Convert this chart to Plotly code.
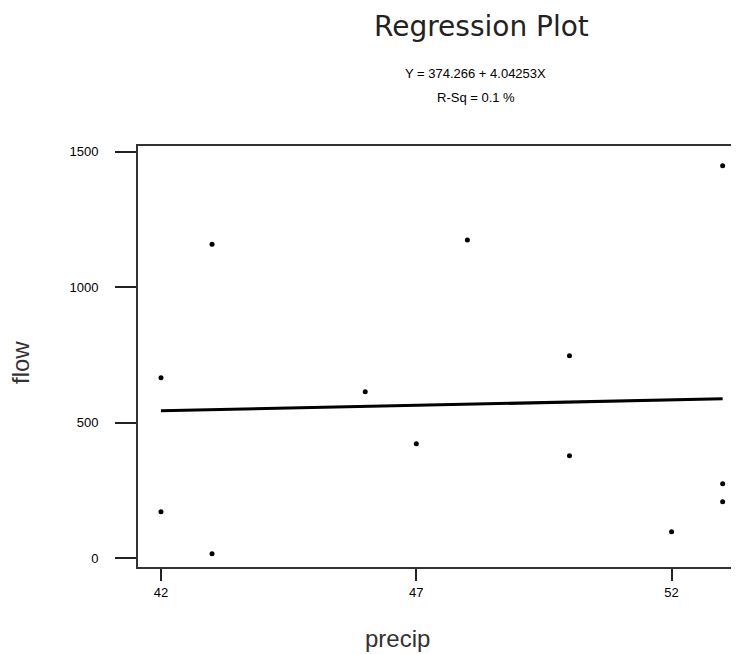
import plotly.graph_objects as go

# ---- data ----
precip = [42, 42, 43, 43, 46, 47, 48, 50, 50, 52, 53, 53, 53]
flow = [666, 172, 17, 1159, 614, 423, 1174, 747, 378, 98, 275, 209, 1448]
intercept = 374.266
slope = 4.04253
r_sq_pct = 0.1
x_ticks = [42, 47, 52]
y_ticks = [0, 500, 1000, 1500]

# ---- layout geometry (pixels); page body adds an 8px offset ----
OFF = 8
W, H = 739 - OFF, 654 - OFF
L, R, T, B = 138 - OFF, 0, 146 - OFF, H - (567 - OFF)
PW, PH = W - L - R, H - T - B


def px(xp):
    return (xp - OFF - L) / PW


def py(yp):
    return (H - B - (yp - OFF)) / PH


x_fit = [min(precip), max(precip)]
y_fit = [intercept + slope * v for v in x_fit]

fig = go.Figure()
fig.add_trace(go.Scatter(x=x_fit, y=y_fit, mode="lines",
                         line=dict(color="black", width=3),
                         hoverinfo="skip", showlegend=False))
fig.add_trace(go.Scatter(x=precip, y=flow, mode="markers",
                         marker=dict(color="black", size=5, symbol="circle"),
                         showlegend=False))

tick_font = dict(family="Liberation Sans, Arial, sans-serif", size=13, color="black")

fig.update_layout(
    width=W, height=H,
    margin=dict(l=L, r=R, t=T, b=B, pad=0),
    paper_bgcolor="white", plot_bgcolor="white",
    showlegend=False,
    xaxis=dict(range=[41.55, 53.32], tickvals=x_ticks, ticktext=[str(v) for v in x_ticks],
               showgrid=False, zeroline=False, showline=True, mirror=True,
               linecolor="#333333", linewidth=2,
               ticks="outside", ticklen=12, tickwidth=2, tickcolor="#222222",
               tickfont=tick_font),
    yaxis=dict(range=[-32.1, 1521], tickvals=y_ticks, ticktext=[str(v) for v in y_ticks],
               showgrid=False, zeroline=False, showline=True, mirror=False,
               linecolor="#333333", linewidth=2,
               ticks="outside", ticklen=21, tickwidth=2, tickcolor="#222222",
               tickfont=tick_font, ticklabelstandoff=14),
)

ann_common = dict(xref="paper", yref="paper", showarrow=False,
                  xanchor="center", yanchor="middle")
fig.add_annotation(text="Regression Plot", x=px(481), y=py(27),
                   font=dict(family="DejaVu Sans", size=28, color="#222222"), **ann_common)
fig.add_annotation(text=f"Y = {intercept} + {slope}X", x=px(476), y=py(73),
                   font=dict(family="Liberation Sans, Arial", size=13, color="black"), **ann_common)
fig.add_annotation(text=f"R-Sq = {r_sq_pct} %", x=px(476), y=py(97),
                   font=dict(family="Liberation Sans, Arial", size=13, color="black"), **ann_common)
fig.add_annotation(text="precip", x=px(397), y=py(638),
                   font=dict(family="Liberation Sans, Arial", size=24, color="#333333"), **ann_common)
fig.add_annotation(text="flow", x=px(20), y=py(363), textangle=-90,
                   font=dict(family="Liberation Sans, Arial", size=24, color="#333333"), **ann_common)

fig.write_html("out.html")
